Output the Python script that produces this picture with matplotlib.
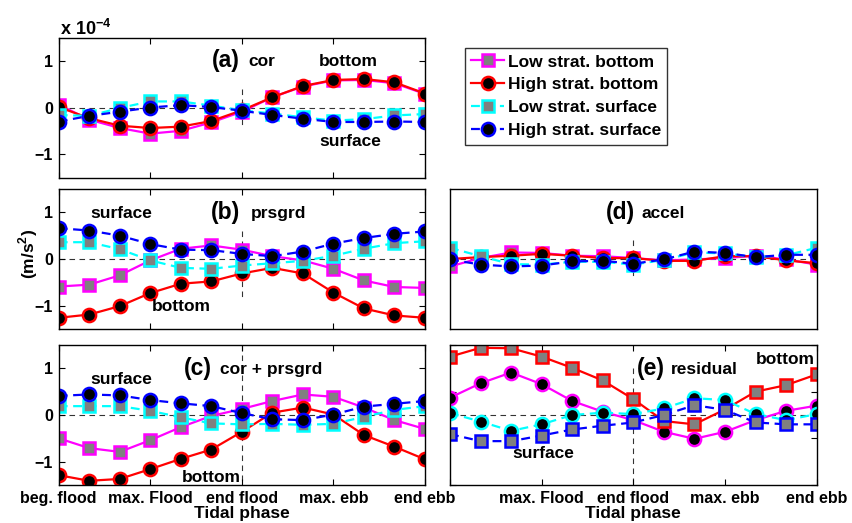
import numpy as np
import matplotlib
matplotlib.use("Agg")
from matplotlib import pyplot as plt

plt.rcParams["font.family"] = ["Liberation Sans", "DejaVu Sans"]
plt.rcParams["font.weight"] = "bold"
plt.rcParams["mathtext.fontset"] = "custom"
plt.rcParams["mathtext.rm"] = "Liberation Sans:bold"
plt.rcParams["mathtext.bf"] = "Liberation Sans:bold"

# Tidal phase index (13 snapshots over one tide)
phase = np.arange(13)
tick_pos = [0, 3, 6, 9, 12]
tick_labels = ["beg. flood", "max. Flood", "end flood", "max. ebb", "end ebb"]
series_names = ["Low strat. bottom", "High strat. bottom",
                "Low strat. surface", "High strat. surface"]

# Momentum terms, units of 1e-4 m/s^2
# order in each list: magenta, red, cyan, blue curve
cor = [
    [0.06, -0.26, -0.44, -0.56, -0.50, -0.32, -0.09, 0.22, 0.45, 0.58, 0.59, 0.52, 0.29],
    [0.01, -0.23, -0.39, -0.44, -0.41, -0.29, -0.06, 0.22, 0.46, 0.59, 0.61, 0.54, 0.30],
    [-0.16, -0.18, -0.01, 0.13, 0.13, 0.04, -0.06, -0.13, -0.21, -0.28, -0.25, -0.17, -0.14],
    [-0.30, -0.18, -0.09, 0.00, 0.05, 0.01, -0.07, -0.16, -0.24, -0.31, -0.31, -0.30, -0.31],
]
prsgrd = [
    [-0.59, -0.55, -0.35, -0.03, 0.22, 0.29, 0.20, 0.06, -0.03, -0.21, -0.46, -0.60, -0.62],
    [-1.26, -1.19, -1.01, -0.73, -0.53, -0.48, -0.31, -0.19, -0.31, -0.72, -1.06, -1.21, -1.26],
    [0.36, 0.36, 0.21, -0.03, -0.19, -0.21, -0.14, -0.09, -0.04, 0.07, 0.22, 0.34, 0.38],
    [0.66, 0.61, 0.50, 0.32, 0.20, 0.19, 0.11, 0.06, 0.16, 0.33, 0.45, 0.54, 0.59],
]
cor_prsgrd = [
    [-0.50, -0.71, -0.79, -0.54, -0.26, -0.02, 0.13, 0.30, 0.44, 0.39, 0.16, -0.11, -0.30],
    [-1.29, -1.41, -1.37, -1.16, -0.94, -0.74, -0.36, 0.05, 0.16, 0.01, -0.43, -0.68, -0.95],
    [0.19, 0.19, 0.19, 0.09, -0.05, -0.18, -0.20, -0.19, -0.21, -0.19, -0.04, 0.11, 0.19],
    [0.41, 0.44, 0.42, 0.32, 0.25, 0.19, 0.04, -0.09, -0.11, 0.01, 0.18, 0.24, 0.30],
]
accel = [
    [-0.16, 0.02, 0.14, 0.13, 0.07, 0.06, 0.02, -0.03, -0.01, 0.02, 0.07, -0.01, -0.12],
    [0.00, 0.04, 0.07, 0.11, 0.07, 0.02, 0.02, -0.04, -0.04, 0.06, 0.06, -0.03, -0.09],
    [0.24, 0.06, -0.11, -0.12, -0.06, -0.06, -0.12, -0.02, 0.14, 0.12, 0.04, 0.08, 0.24],
    [-0.01, -0.12, -0.16, -0.14, -0.05, -0.04, -0.10, -0.01, 0.16, 0.13, 0.04, 0.09, 0.09],
]
residual = [
    [0.37, 0.68, 0.91, 0.66, 0.30, 0.07, -0.11, -0.36, -0.51, -0.36, -0.11, 0.09, 0.20],
    [1.25, 1.44, 1.43, 1.25, 1.01, 0.74, 0.34, -0.13, -0.20, 0.12, 0.50, 0.64, 0.87],
    [0.04, -0.14, -0.34, -0.20, 0.00, 0.05, 0.02, 0.14, 0.36, 0.32, 0.02, -0.11, 0.02],
    [-0.41, -0.56, -0.56, -0.44, -0.31, -0.23, -0.16, 0.00, 0.21, 0.11, -0.16, -0.20, -0.20],
]

colors = ["#ff00ff", "#ff0000", "#00ffff", "#0000ff"]
styles = ["-", "-", "--", "--"]
gray = "#808080"

def draw(ax, data, markers, faces):
    handles = []
    for vals, c, ls, m, fc, name in zip(data, colors, styles, markers, faces, series_names):
        h, = ax.plot(phase, vals, ls=ls, color=c, lw=1.6, marker=m,
                     ms=9.5 if m == "o" else 8.5, mfc=fc, mec=c, mew=1.8,
                     dashes=(4, 2.5) if ls == "--" else (None, None), label=name)
        handles.append(h)
    return handles

def frame(ax, vline, labels=True, yticks=(-1, 0, 1), xticks=True):
    ax.set_xlim(0, 12)
    ax.set_ylim(-1.5, 1.5)
    ax.axhline(0, color="k", lw=0.8, ls=(0, (5, 4)), alpha=0.8, zorder=1)
    ax.plot([6, 6], vline, color="k", lw=0.8, ls=(0, (5, 4)), alpha=0.8, zorder=1)
    ax.set_yticks(yticks)
    ax.set_xticks(tick_pos if xticks else [])
    if not labels:
        ax.set_yticklabels([])
    ax.set_xticklabels([])
    ax.tick_params(direction="in", length=4, width=0.8, top=True, right=True,
                   labelsize=11.5, pad=4)
    for s in ax.spines.values():
        s.set_linewidth(1.0)

fig = plt.figure(figsize=(8.52, 5.23), dpi=100)
W, H = 852.0, 523.0
def place(l, t, r, b):
    return fig.add_axes([l / W, 1 - b / H, (r - l) / W, (b - t) / H])

ax_a = place(58.7, 37.5, 425, 177.5)
ax_b = place(58.7, 189, 425, 329)
ax_c = place(58.7, 345, 425, 485)
ax_d = place(450, 189, 816.7, 329)
ax_e = place(450, 345, 816.7, 485)

std_m = ["s", "o", "s", "o"]
std_f = [gray, "k", gray, "k"]

handles = draw(ax_a, cor, std_m, std_f)
frame(ax_a, [0.39, -0.41])
draw(ax_b, prsgrd, std_m, std_f)
frame(ax_b, [0.61, -0.81])
draw(ax_c, cor_prsgrd, std_m, std_f)
frame(ax_c, [1.5, -1.5])
draw(ax_d, accel, std_m, std_f)
frame(ax_d, [0.41, -0.41], labels=False, yticks=[], xticks=False)
# residual panel swaps the marker shapes
draw(ax_e, residual, ["o", "s", "o", "s"], ["k", gray, "k", gray])
frame(ax_e, [1.0, -1.5], labels=False, yticks=[-1.5, -0.5, 0.5, 1.5])

ax_c.set_xticklabels(tick_labels)
ax_e.set_xticklabels([""] + tick_labels[1:])
for ax in (ax_c, ax_e):
    ax.set_xlabel("Tidal phase", fontsize=12.5, fontweight="bold", labelpad=0)

# panel titles
titles = [
    (ax_a, "(a)", 5.94, "cor", 6.23),
    (ax_b, "(b)", 5.94, "prsgrd", 6.29),
    (ax_c, "(c)", 5.01, "cor + prsgrd", 5.30),
    (ax_d, "(d)", 6.05, "accel", 6.27),
    (ax_e, "(e)", 7.04, "residual", 7.23),
]
for ax, tag, xt, name, xn in titles:
    ax.text(xt, 1.0, tag, ha="right", va="center", fontsize=16.5, fontweight="bold")
    ax.text(xn, 0.98, name, ha="left", va="center", fontsize=12.5, fontweight="bold")

# layer annotations
notes = [
    (ax_a, "bottom", 9.49, 0.98),
    (ax_a, "surface", 9.55, -0.73),
    (ax_b, "surface", 2.05, 0.97),
    (ax_b, "bottom", 4.01, -1.02),
    (ax_c, "surface", 2.05, 0.76),
    (ax_c, "bottom", 4.99, -1.34),
    (ax_e, "bottom", 10.98, 1.18),
    (ax_e, "surface", 3.05, -0.82),
]
for ax, txt, x, y in notes:
    ax.text(x, y, txt, ha="center", va="center", fontsize=12.5, fontweight="bold")

fig.text(60 / W, 1 - 29 / H, r"x 10$^{-4}$", ha="left", va="center", fontsize=13)
fig.text(28 / W, 1 - 254 / H, r"(m/s$^{2}$)", ha="center", va="center",
         rotation=90, fontsize=12.5, fontweight="bold")

leg = fig.legend(handles=handles, loc="upper left", bbox_to_anchor=(465 / W, 1 - 48.3 / H),
                 frameon=True, fancybox=False, edgecolor="k", fontsize=12.5,
                 handlelength=1.9, handletextpad=0.2, borderpad=0.35,
                 labelspacing=0.45, borderaxespad=0)
leg.get_frame().set_linewidth(1.0)

fig.savefig("out.png", dpi=100)
